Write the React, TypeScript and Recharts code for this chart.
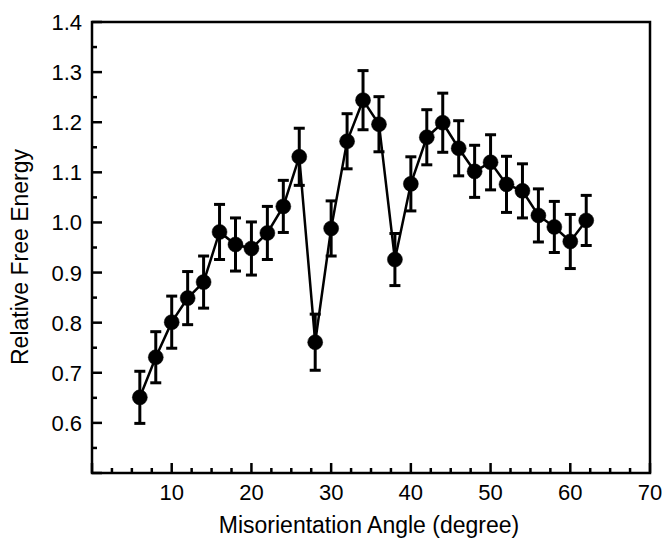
import { LineChart, Line, XAxis, YAxis, ErrorBar, ReferenceArea } from "recharts";

const angles = [6, 8, 10, 12, 14, 16, 18, 20, 22, 24, 26, 28, 30, 32, 34, 36, 38, 40, 42, 44, 46, 48, 50, 52, 54, 56, 58, 60, 62];
const energy = [0.651, 0.731, 0.801, 0.849, 0.881, 0.981, 0.956, 0.948, 0.979, 1.032, 1.131, 0.761, 0.988, 1.162, 1.244, 1.196, 0.926, 1.077, 1.17, 1.199, 1.148, 1.102, 1.12, 1.076, 1.063, 1.014, 0.991, 0.962, 1.004];
const energyErr = [0.052, 0.051, 0.052, 0.053, 0.052, 0.055, 0.053, 0.053, 0.053, 0.052, 0.057, 0.056, 0.055, 0.055, 0.059, 0.055, 0.052, 0.054, 0.055, 0.059, 0.055, 0.052, 0.055, 0.056, 0.054, 0.053, 0.051, 0.054, 0.05];

const xTicks = [0, 2.5, 5, 7.5, 10, 12.5, 15, 17.5, 20, 22.5, 25, 27.5, 30, 32.5, 35, 37.5, 40, 42.5, 45, 47.5, 50, 52.5, 55, 57.5, 60, 62.5, 65, 67.5, 70];
const xLabeled = [10, 20, 30, 40, 50, 60, 70];
const yTicks = [0.5, 0.55, 0.6, 0.65, 0.7, 0.75, 0.8, 0.85, 0.9, 0.95, 1.0, 1.05, 1.1, 1.15, 1.2, 1.25, 1.3, 1.35, 1.4];
const yLabeled = ["0.6", "0.7", "0.8", "0.9", "1.0", "1.1", "1.2", "1.3", "1.4"];

const data = angles.map((x, i) => ({ x, y: energy[i], err: energyErr[i] }));

const font = "'Liberation Sans', Arial, Helvetica, sans-serif";

function XTick({ x, y, payload }: any) {
  const v = payload.value;
  const major = v % 10 === 0;
  return (
    <g>
      <line x1={x} y1={y} x2={x} y2={y - (major ? 10 : 5)} stroke="#000" strokeWidth={2.5} />
      {xLabeled.includes(v) && (
        <text x={x} y={y + 27} textAnchor="middle" fontSize={22} fontFamily={font} fill="#000">{v}</text>
      )}
    </g>
  );
}

function YTick({ x, y, payload }: any) {
  const label = payload.value.toFixed(1);
  const major = Math.round(payload.value * 100) % 10 === 0;
  return (
    <g>
      <line x1={x} y1={y} x2={x + (major ? 10 : 5)} y2={y} stroke="#000" strokeWidth={2.5} />
      {major && yLabeled.includes(label) && (
        <text x={x - 10} y={y} dy={8} textAnchor="end" fontSize={22} fontFamily={font} fill="#000">{label}</text>
      )}
    </g>
  );
}

function XTitle() {
  return (
    <text x={369} y={533} textAnchor="middle" fontSize={23} fontFamily={font} fill="#000">Misorientation Angle (degree)</text>
  );
}

function YTitle() {
  return (
    <text x={28} y={257} transform="rotate(-90, 28, 257)" textAnchor="middle" fontSize={23} fontFamily={font} fill="#000">Relative Free Energy</text>
  );
}

export default function App() {
  return (
    <div style={{ position: "absolute", left: 0, top: 0, background: "#fff" }}>
      <LineChart width={665} height={540} data={data} margin={{ top: 22, right: 15, bottom: 22, left: 32 }}>
        <XAxis
          type="number"
          dataKey="x"
          domain={[0, 70]}
          ticks={xTicks}
          interval={0}
          tickSize={0}
          tickMargin={0}
          tickLine={false}
          axisLine={false}
          height={45}
          tick={<XTick />}
          label={<XTitle />}
        />
        <YAxis
          type="number"
          domain={[0.5, 1.4]}
          ticks={yTicks}
          interval={0}
          tickSize={0}
          tickMargin={0}
          tickLine={false}
          axisLine={false}
          width={60}
          tick={<YTick />}
          label={<YTitle />}
        />
        <ReferenceArea x1={0} x2={70} y1={0.5} y2={1.4} fill="none" fillOpacity={0} stroke="#000" strokeWidth={2.5} />
        <Line
          type="linear"
          dataKey="y"
          stroke="#000"
          strokeWidth={2.5}
          dot={{ r: 7.5, fill: "#000", stroke: "#000", strokeWidth: 0.5 }}
          activeDot={false}
          isAnimationActive={false}
        >
          <ErrorBar dataKey="err" width={5.5} stroke="#000" strokeWidth={3} direction="y" />
        </Line>
      </LineChart>
    </div>
  );
}
